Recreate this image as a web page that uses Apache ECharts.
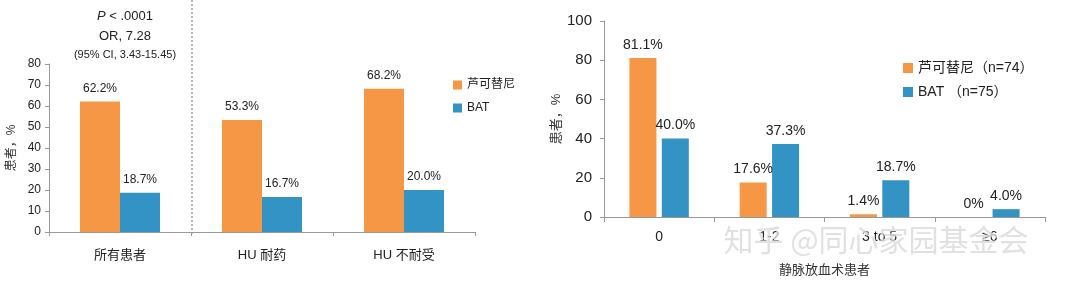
<!DOCTYPE html>
<html><head><meta charset="utf-8">
<script src="https://cdn.jsdelivr.net/npm/echarts@6/dist/echarts.min.js"></script>
<style>html,body{margin:0;padding:0;background:#fff}#c{width:1074px;height:282px}</style>
</head><body><div id="c"></div>
<script>
const leftCategories = ['所有患者', 'HU 耐药', 'HU 不耐受'];
const leftRux = [62.2, 53.3, 68.2];
const leftBat = [18.7, 16.7, 20.0];
const leftNames = ['芦可替尼', 'BAT'];

const rightCategories = ['0', '1-2', '3 to 5', '≥6'];
const rightRux = [81.1, 17.6, 1.4, 0];
const rightBat = [40.0, 37.3, 18.7, 4.0];
const rightNames = ['芦可替尼（n=74）', 'BAT （n=75）'];

const ORANGE = '#F69746', BLUE = '#3393C4';
const FONT = '"Liberation Sans", Arial, "Noto Sans CJK SC", sans-serif';
const NARROW = '"Liberation Sans Narrow", "Liberation Sans", "Noto Sans CJK SC", sans-serif';

const chart = echarts.init(document.getElementById('c'));
const fmt = p => (p.value === 0 ? '0' : p.value.toFixed(1)) + '%';

chart.setOption({
  animation: false,
  textStyle: { fontFamily: FONT },
  grid: [
    { left: 49, top: 64, right: 599, bottom: 50 },
    { left: 604, top: 21, right: 29, bottom: 61 }
  ],
  legend: [
    { data: leftNames, orient: 'vertical', left: 448, top: 74, itemWidth: 9, itemHeight: 9, itemGap: 11,
      icon: 'rect', textStyle: { fontSize: 12, color: '#222', fontFamily: NARROW } },
    { data: rightNames, orient: 'vertical', left: 898, top: 56, itemWidth: 10, itemHeight: 10, itemGap: 10,
      icon: 'rect', textStyle: { fontSize: 14, color: '#222' } }
  ],
  xAxis: [
    { type: 'category', gridIndex: 0, data: leftCategories,
      axisLine: { lineStyle: { color: '#999' } },
      axisTick: { show: true, length: 4, lineStyle: { color: '#999' } },
      axisLabel: { color: '#222', fontSize: 13, margin: 17, fontFamily: NARROW } },
    { type: 'category', gridIndex: 1, data: rightCategories,
      name: '静脉放血术患者', nameLocation: 'middle', nameGap: 47,
      nameTextStyle: { fontSize: 13, color: '#333' },
      axisLine: { lineStyle: { color: '#999' } },
      axisTick: { show: true, length: 5, lineStyle: { color: '#999' } },
      axisLabel: { color: '#222', fontSize: 14, margin: 13 } }
  ],
  yAxis: [
    { type: 'value', gridIndex: 0, min: 0, max: 80, interval: 10,
      name: '患者，%', nameLocation: 'middle', nameRotate: 90, nameGap: 31,
      nameTextStyle: { fontSize: 12, color: '#333' },
      axisLine: { show: true, lineStyle: { color: '#999' } },
      axisTick: { show: true, length: 4, lineStyle: { color: '#999' } },
      splitLine: { show: false },
      axisLabel: { color: '#222', fontSize: 12, margin: 8, fontFamily: NARROW } },
    { type: 'value', gridIndex: 1, min: 0, max: 100, interval: 20,
      name: '患者，%', nameLocation: 'middle', nameRotate: 90, nameGap: 41,
      nameTextStyle: { fontSize: 13, color: '#333' },
      axisLine: { show: true, lineStyle: { color: '#999' } },
      axisTick: { show: true, length: 4, lineStyle: { color: '#999' } },
      splitLine: { show: false },
      axisLabel: { color: '#222', fontSize: 15, margin: 12 } }
  ],
  series: [
    { name: leftNames[0], type: 'bar', xAxisIndex: 0, yAxisIndex: 0, data: leftRux,
      barWidth: 40, barGap: '0%', itemStyle: { color: ORANGE },
      label: { show: true, position: 'top', distance: 7, formatter: fmt, fontSize: 12, color: '#222', fontFamily: NARROW } },
    { name: leftNames[1], type: 'bar', xAxisIndex: 0, yAxisIndex: 0, data: leftBat,
      barWidth: 40, barGap: '0%', itemStyle: { color: BLUE },
      label: { show: true, position: 'top', distance: 7, formatter: fmt, fontSize: 12, color: '#222', fontFamily: NARROW } },
    { name: rightNames[0], type: 'bar', xAxisIndex: 1, yAxisIndex: 1, data: rightRux,
      barWidth: 27, barGap: '20%', itemStyle: { color: ORANGE },
      label: { show: true, position: 'top', distance: 6, formatter: fmt, fontSize: 14, color: '#222' } },
    { name: rightNames[1], type: 'bar', xAxisIndex: 1, yAxisIndex: 1, data: rightBat,
      barWidth: 27, barGap: '20%', itemStyle: { color: BLUE },
      label: { show: true, position: 'top', distance: 6, formatter: fmt, fontSize: 14, color: '#222' } }
  ],
  graphic: [
    { type: 'line', shape: { x1: 192, y1: 0, x2: 192, y2: 236 },
      style: { stroke: '#777', lineWidth: 1, lineDash: [2, 2] } },
    { type: 'text', x: 125, y: 16, style: {
        text: '{i|P} < .0001', textAlign: 'center', textVerticalAlign: 'middle',
        font: '13px ' + NARROW, fill: '#222',
        rich: { i: { fontStyle: 'italic', fontSize: 13, fontFamily: NARROW, fill: '#222' } } } },
    { type: 'text', x: 125, y: 36, style: {
        text: 'OR, 7.28', textAlign: 'center', textVerticalAlign: 'middle',
        font: '13px ' + NARROW, fill: '#222' } },
    { type: 'text', x: 125, y: 55, style: {
        text: '(95% CI, 3.43-15.45)', textAlign: 'center', textVerticalAlign: 'middle',
        font: '11px ' + NARROW, fill: '#222' } },
    { type: 'text', x: 876, y: 240, z: 100, style: {
        text: '知乎 @同心家园基金会', textAlign: 'center', textVerticalAlign: 'middle',
        font: '30px "Noto Sans CJK SC", sans-serif', fill: 'rgba(215,215,215,0.75)',
        stroke: 'rgba(255,255,255,0.6)', lineWidth: 1 } }
  ]
});
</script></body></html>
